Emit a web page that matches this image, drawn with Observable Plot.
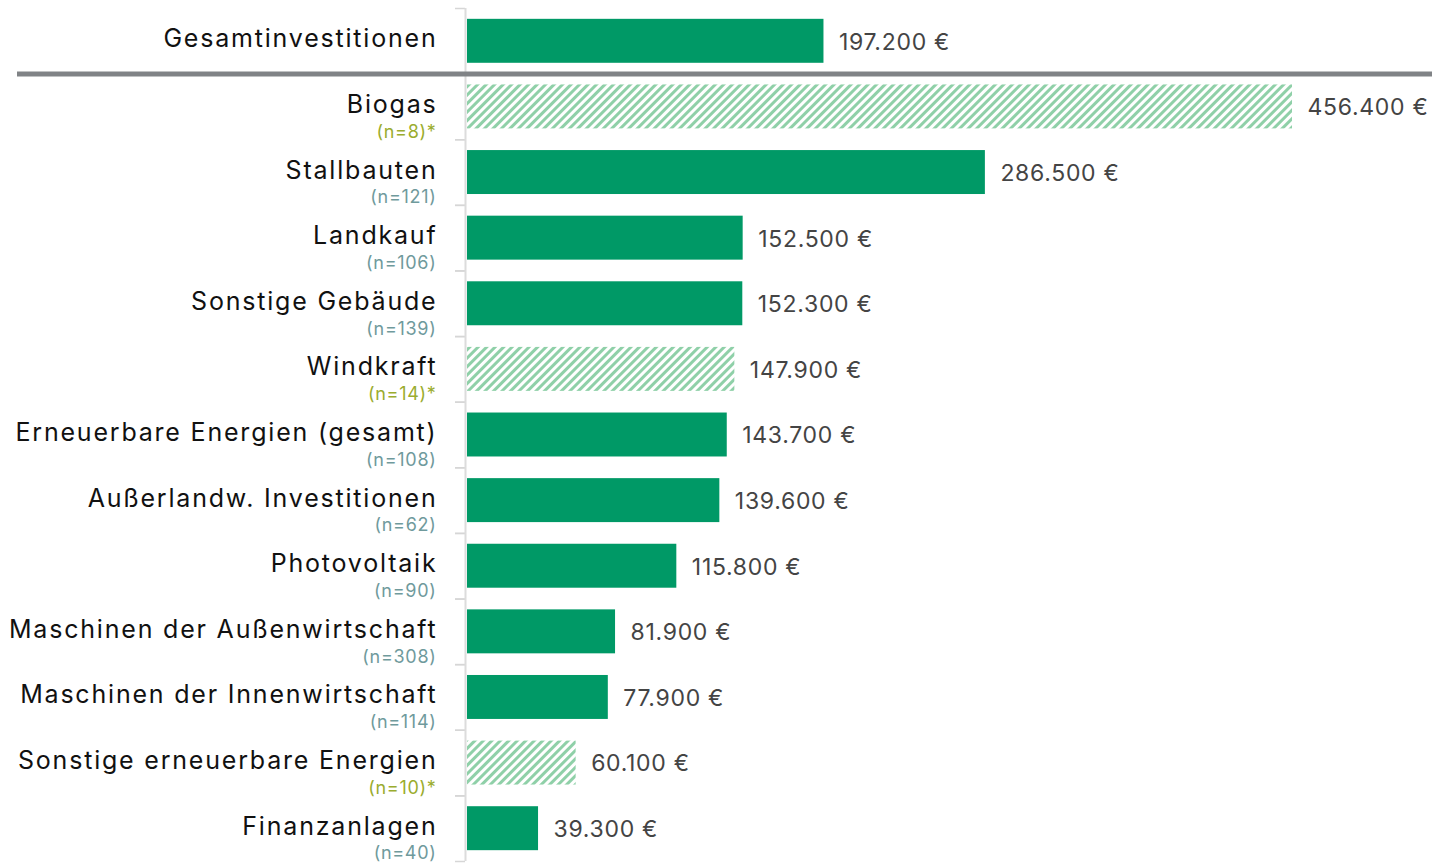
<!DOCTYPE html>
<html><head><meta charset="utf-8">
<script src="https://cdn.jsdelivr.net/npm/d3@7"></script>
<script src="https://cdn.jsdelivr.net/npm/@observablehq/plot@0.6"></script>
<style>
body{margin:0;background:#fff;overflow:hidden;}
.name text{letter-spacing:1.8px;}
.small text{letter-spacing:0.7px;}
.val text{letter-spacing:0.7px;}
</style>
</head><body><div id="chart"></div>
<script>
const categories = ["Gesamtinvestitionen","Biogas","Stallbauten","Landkauf","Sonstige Gebäude","Windkraft","Erneuerbare Energien (gesamt)","Außerlandw. Investitionen","Photovoltaik","Maschinen der Außenwirtschaft","Maschinen der Innenwirtschaft","Sonstige erneuerbare Energien","Finanzanlagen"];
const values = [197200,456400,286500,152500,152300,147900,143700,139600,115800,81900,77900,60100,39300];
const counts = [null,8,121,106,139,14,108,62,90,308,114,10,40];
const lowSample = [false,true,false,false,false,true,false,false,false,false,false,true,false];

const data = categories.map((c,i)=>({category:c, value:values[i], n:counts[i], low:lowSample[i]}));
const W=1432, H=865, mL=467, mR=140, mT=8, mB=4;
const xMax = d3.max(values);
const pI = 0.33, pO = pI/2;
const step = (H-mT-mB)/(categories.length - pI + 2*pO);
const pxPer = (W-mL-mR)/xMax;
const fmt = d3.formatLocale({decimal:",", thousands:".", grouping:[3], currency:["", " €"]}).format("$,");
const font = "Inter, 'Open Sans', sans-serif";

const chart = Plot.plot({
  width: W, height: H, marginLeft: mL, marginRight: mR, marginTop: mT, marginBottom: mB,
  style: {fontFamily: font, background: "white", overflow: "visible"},
  x: {domain: [0, xMax], axis: null},
  y: {domain: categories, paddingInner: pI, paddingOuter: pO, round: false, axis: null},
  marks: [
    Plot.axisY({tickSize: 10, tickFormat: () => "", label: null, dy: -step/2, dx: -2, stroke: "#d6d6d6", strokeWidth: 1.5}),
    Plot.axisY({tickSize: 10, tickFormat: () => "", label: null, dy: step/2, dx: -2, stroke: "#d6d6d6", strokeWidth: 1.5}),
    Plot.ruleX([0], {stroke: "#dcdcdc", strokeWidth: 2, dx: -2}),
    Plot.barX(data.filter(d => !d.low), {x: "value", y: "category", fill: "#009966"}),
    Plot.barX(data.filter(d => d.low), {x: "value", y: "category", fill: "url(#hatch)"}),
    Plot.ruleY([categories[1]], {y: d => d, dy: -step/2, x1: -(mL-17)/pxPer, x2: xMax + mR/pxPer, stroke: "#808386", strokeWidth: 5, clip: false}),
    Plot.text(data, {x: 0, y: "category", text: "category", textAnchor: "end", dx: -30, dy: -2, fontSize: 25, fill: "#111", className: "name"}),
    Plot.text(data.filter(d => d.n != null && !d.low), {x: 0, y: "category", text: d => `(n=${d.n})`, textAnchor: "end", dx: -31, dy: 25, fontSize: 18, fill: "#6f9a9c", className: "small"}),
    Plot.text(data.filter(d => d.n != null && d.low), {x: 0, y: "category", text: d => `(n=${d.n})*`, textAnchor: "end", dx: -31, dy: 25, fontSize: 18, fill: "#9aac2e", className: "small"}),
    Plot.text(data, {x: "value", y: "category", text: d => fmt(d.value), textAnchor: "start", dx: 15, dy: 1, fontSize: 23, fill: "#444", className: "val"})
  ]
});

d3.select(chart).insert("defs", ":first-child").html(
  `<pattern id="hatch" patternUnits="userSpaceOnUse" width="6" height="6" patternTransform="rotate(45)">
     <rect width="6" height="6" fill="#ffffff"/>
     <rect width="3" height="6" fill="#8fd0a8"/>
   </pattern>`);
document.getElementById("chart").appendChild(chart);
</script>
</body></html>
